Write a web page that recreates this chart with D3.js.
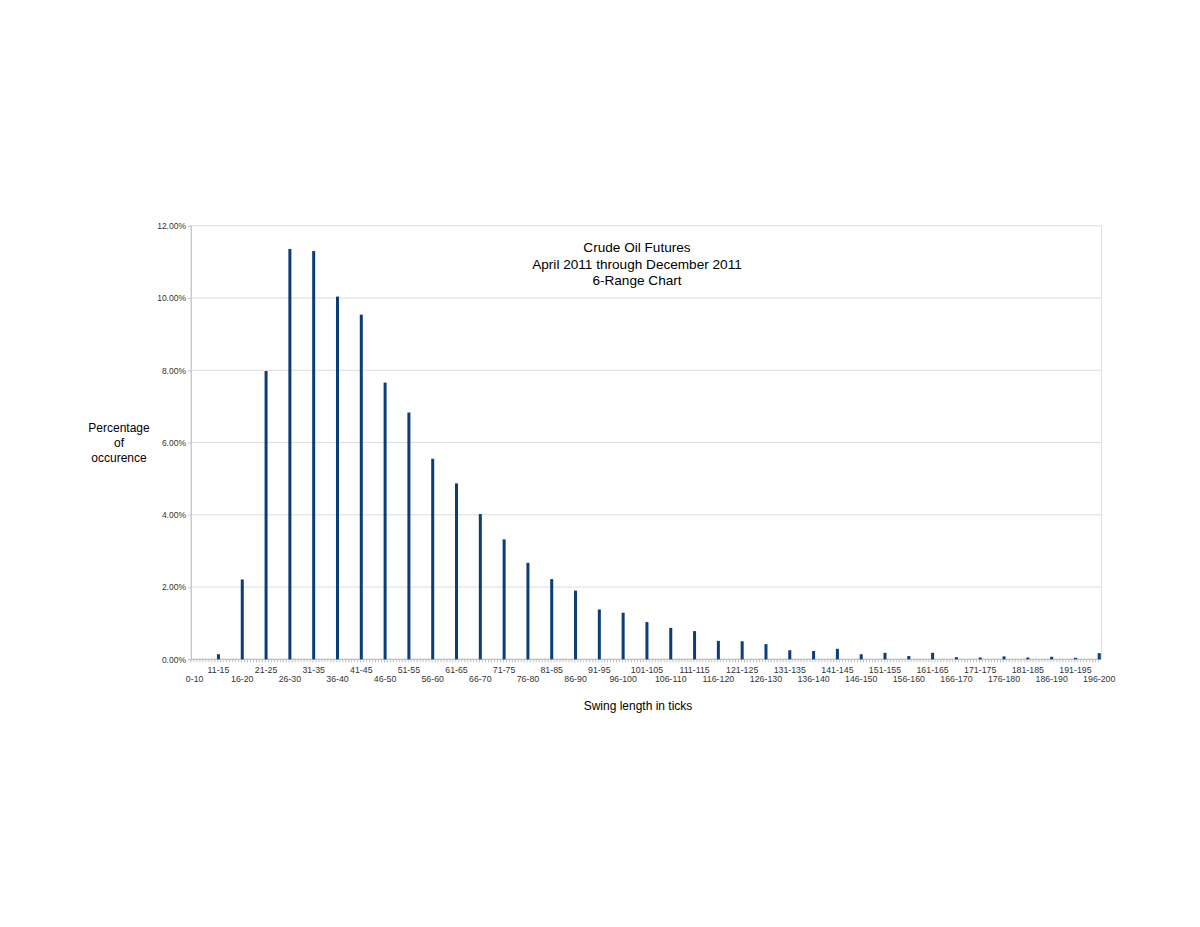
<!DOCTYPE html>
<html>
<head>
<meta charset="utf-8">
<script src="https://cdn.jsdelivr.net/npm/d3@7/dist/d3.min.js"></script>
<style>
  html, body { margin: 0; padding: 0; background: #fff; }
  svg { display: block; }
  text { font-family: "Liberation Sans", Arial, sans-serif; }
</style>
</head>
<body>
<svg id="chart" width="1200" height="927"></svg>
<script>
// ---- Data ----
const categories = ["0-10","11-15","16-20","21-25","26-30","31-35","36-40","41-45","46-50","51-55",
  "56-60","61-65","66-70","71-75","76-80","81-85","86-90","91-95","96-100","101-105",
  "106-110","111-115","116-120","121-125","126-130","131-135","136-140","141-145","146-150","151-155",
  "156-160","161-165","166-170","171-175","176-180","181-185","186-190","191-195","196-200"];
const values = [0, 0.14, 2.21, 7.98, 11.36, 11.30, 10.04, 9.54, 7.66, 6.83,
  5.55, 4.87, 4.02, 3.32, 2.67, 2.22, 1.90, 1.38, 1.29, 1.03,
  0.87, 0.78, 0.51, 0.50, 0.42, 0.25, 0.23, 0.29, 0.14, 0.18,
  0.09, 0.18, 0.06, 0.05, 0.08, 0.05, 0.07, 0.04, 0.17].map(v => v / 100);
const yTicks = [0, 0.02, 0.04, 0.06, 0.08, 0.10, 0.12];
const titleLines = ["Crude Oil Futures", "April 2011 through December 2011", "6-Range Chart"];
const yTitleLines = ["Percentage", "of", "occurence"];
const xTitle = "Swing length in ticks";

// ---- Layout ----
const L = 191, R = 1101.5, T = 225.8, B = 659.3;
const svg = d3.select("#chart");

const x = d3.scalePoint().domain(categories).range([L + 0.8, R + 0.6]).padding(0.12);
const y = d3.scaleLinear().domain([0, 0.12]).range([B, T]);

// grid lines
svg.append("g").selectAll("line").data(yTicks).join("line")
  .attr("x1", L).attr("x2", R)
  .attr("y1", d => y(d)).attr("y2", d => y(d))
  .attr("stroke", "#dcdcdc").attr("stroke-width", 1);

// plot frame (left/right)
svg.append("line").attr("x1", L).attr("x2", L).attr("y1", T).attr("y2", B)
  .attr("stroke", "#d0d0d0");
svg.append("line").attr("x1", R).attr("x2", R).attr("y1", T).attr("y2", B)
  .attr("stroke", "#e0e0e0");

// y axis
const yAxis = d3.axisLeft(y).tickValues(yTicks).tickSize(3).tickPadding(2)
  .tickFormat(d3.format(".2%"));
const gy = svg.append("g").attr("transform", `translate(${L},0)`).call(yAxis);
gy.select(".domain").attr("stroke", "#c8c8c8");
gy.selectAll(".tick line").attr("stroke", "#c8c8c8");
gy.selectAll(".tick text").attr("font-size", "8.5px").attr("fill", "#333")
  .attr("font-family", "'Liberation Sans', Arial, sans-serif");

// x axis minor ticks (8 per category step)
const step = x.step();
const minor = d3.range(0, Math.floor((R - L) / (step / 8)) + 1).map(i => L + i * step / 8);
svg.append("g").selectAll("line").data(minor).join("line")
  .attr("x1", d => d).attr("x2", d => d)
  .attr("y1", B).attr("y2", B + 3)
  .attr("stroke", "#c0c0c0");
svg.append("line").attr("x1", L).attr("x2", R).attr("y1", B).attr("y2", B)
  .attr("stroke", "#b8b8b8");

// x labels, staggered
svg.append("g").selectAll("text").data(categories).join("text")
  .attr("x", d => x(d))
  .attr("y", (d, i) => i % 2 === 0 ? 682 : 673)
  .attr("text-anchor", "middle")
  .attr("font-size", "8.8px").attr("fill", "#333")
  .text(d => d);

// bars
const bw = 3;
svg.append("g").selectAll("rect").data(values).join("rect")
  .attr("x", (d, i) => x(categories[i]) - bw / 2)
  .attr("width", bw)
  .attr("y", d => y(d))
  .attr("height", d => B - y(d))
  .attr("fill", "#0b3d77");

// title
svg.append("g").selectAll("text").data(titleLines).join("text")
  .attr("x", 637).attr("y", (d, i) => 252 + i * 16.7)
  .attr("text-anchor", "middle")
  .attr("font-size", "13.6px").attr("fill", "#000")
  .text(d => d);

// y title
svg.append("g").selectAll("text").data(yTitleLines).join("text")
  .attr("x", 119).attr("y", (d, i) => 432 + i * 15)
  .attr("text-anchor", "middle")
  .attr("font-size", "12px").attr("fill", "#000")
  .text(d => d);

// x title
svg.append("text").attr("x", 638).attr("y", 710)
  .attr("text-anchor", "middle").attr("font-size", "12px").attr("fill", "#000")
  .text(xTitle);
</script>
</body>
</html>
